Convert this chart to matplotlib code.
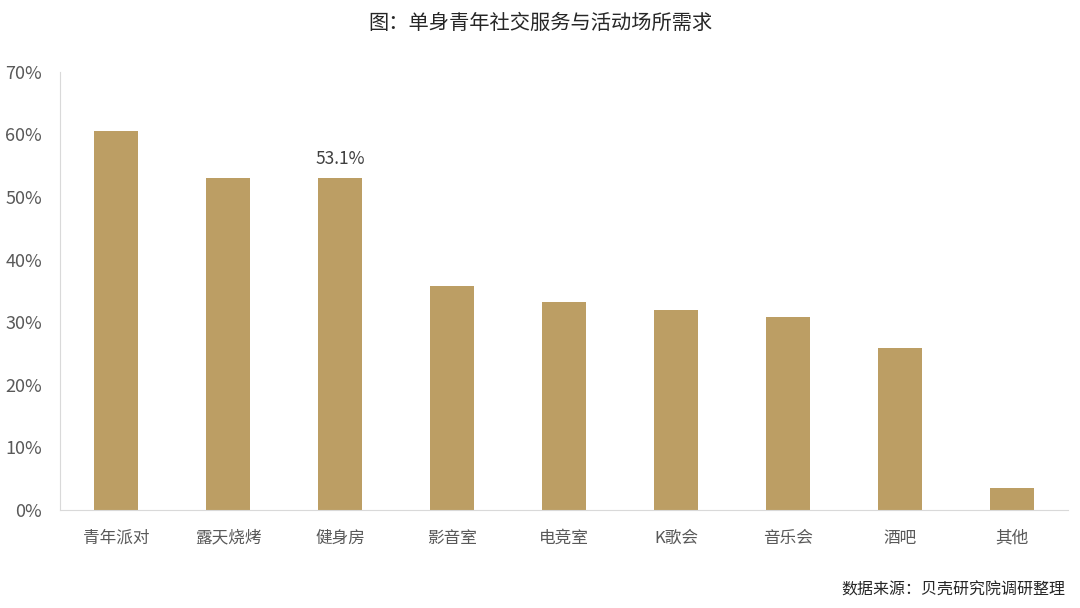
import matplotlib
matplotlib.use('Agg')
from matplotlib import pyplot as plt
from matplotlib.ticker import FuncFormatter

plt.rcParams['font.family'] = ['Noto Sans CJK SC', 'DejaVu Sans']

# данные
categories = ['青年派对', '露天烧烤', '健身房', '影音室', '电竞室', 'K歌会', '音乐会', '酒吧', '其他']
values = [60.5, 53.0, 53.1, 35.8, 33.2, 32.0, 30.8, 25.9, 3.5]

fig = plt.figure(figsize=(10.8, 6.08), dpi=100)
ax = fig.add_axes([0.0556, 0.161, 0.9334, 0.721])

ax.bar(range(len(categories)), values, width=0.39, color='#BC9E64')

# подпись только над 健身房
ax.text(2, values[2] + 1.6, '53.1%', ha='center', va='bottom', fontsize=12.5, color='#404040')

ax.set_xlim(-0.5, len(categories) - 0.5)
ax.set_ylim(0, 70)
ax.set_yticks(range(0, 71, 10))
ax.yaxis.set_major_formatter(FuncFormatter(lambda v, p: f'{int(v)}%'))
ax.set_xticks(range(len(categories)))
ax.set_xticklabels(categories)
ax.tick_params(axis='both', length=0, labelsize=12, labelcolor='#595959')
ax.tick_params(axis='x', pad=14)
ax.tick_params(axis='y', pad=13, labelsize=13)

for s in ['top', 'right']:
    ax.spines[s].set_visible(False)
ax.spines['left'].set_color('#D9D9D9')
ax.spines['bottom'].set_color('#D9D9D9')

fig.text(0.5, 0.962, '图：单身青年社交服务与活动场所需求', ha='center', va='center', fontsize=14.6, color='#262626')
fig.text(0.986, 0.029, '数据来源：贝壳研究院调研整理', ha='right', va='center', fontsize=11.5, color='#262626')

fig.savefig('out.png', dpi=100)
